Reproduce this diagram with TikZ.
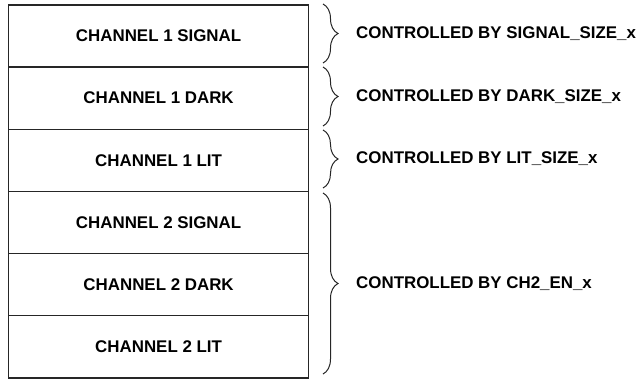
\documentclass[tikz,border=0pt]{standalone}
\usepackage{fontspec}
\setmainfont{Liberation Sans}
\usetikzlibrary{decorations.pathreplacing}
\begin{document}
\begin{tikzpicture}[x=1pt,y=-1pt,
  rowbox/.style={draw=black!85,line width=1.2pt,minimum width=300pt,minimum height=62.17pt,inner sep=0pt,font=\bfseries\fontsize{16.9}{19}\selectfont,anchor=north west},
  lbl/.style={anchor=west,inner sep=0pt,font=\bfseries\fontsize{16.9}{19}\selectfont},
  brc/.style={draw=black!85,line width=1pt,decorate,decoration={brace,amplitude=15pt}}]
\useasboundingbox (0,0) rectangle (639,378);
\node[rowbox] (r1) at (8,4.3) {CHANNEL 1 SIGNAL};
\node[rowbox] (r2) at (8,66.47) {CHANNEL 1 DARK};
\node[rowbox] (r3) at (8,128.64) {CHANNEL 1 LIT};
\node[rowbox] (r4) at (8,190.81) {CHANNEL 2 SIGNAL};
\node[rowbox] (r5) at (8,252.98) {CHANNEL 2 DARK};
\node[rowbox] (r6) at (8,315.15) {CHANNEL 2 LIT};
\coordinate (b1t) at (323,4);   \coordinate (b1b) at (323,63);
\coordinate (b2t) at (323,67);  \coordinate (b2b) at (323,126);
\coordinate (b3t) at (323,130); \coordinate (b3b) at (323,188);
\coordinate (b4t) at (323,193); \coordinate (b4b) at (323,374);
\draw[brc] (b1t) -- (b1b);
\draw[brc] (b2t) -- (b2b);
\draw[brc] (b3t) -- (b3b);
\draw[brc] (b4t) -- (b4b);
\node[lbl] (l1) at (356,33.5) {CONTROLLED BY SIGNAL\_SIZE\_x};
\node[lbl] (l2) at (356,96.5) {CONTROLLED BY DARK\_SIZE\_x};
\node[lbl] (l3) at (356,159) {CONTROLLED BY LIT\_SIZE\_x};
\node[lbl] (l4) at (356,283.5) {CONTROLLED BY CH2\_EN\_x};
\end{tikzpicture}
\end{document}
